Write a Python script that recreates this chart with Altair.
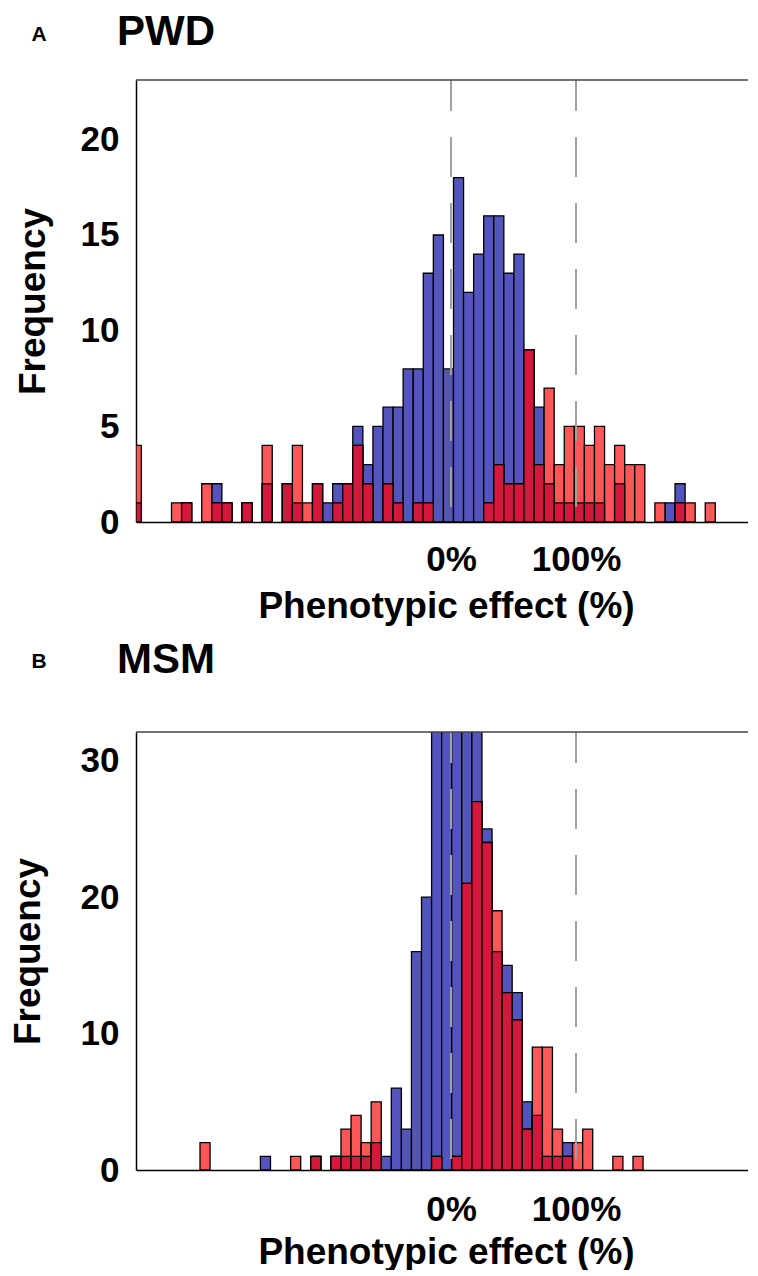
import altair as alt
import pandas as pd

# ---- data (counts per bin, bins left to right) ----
# Panel A: PWD
pwd_blue = [1, 0, 0, 0, 0, 1, 0, 0, 2, 1, 0, 1, 0, 2, 0, 2, 1, 0, 2, 1,
            2, 2, 5, 3, 5, 6, 6, 8, 8, 13, 15, 8, 18, 12, 14, 16, 16, 13, 14, 9,
            6, 2, 1, 1, 1, 1, 1, 0, 2, 0, 0, 0, 0, 1, 2, 0, 0, 0, 0, 0,
            0, 0, 0]
pwd_red = [4, 0, 0, 0, 1, 1, 0, 2, 1, 1, 0, 1, 0, 4, 0, 2, 4, 1, 2, 0,
           1, 2, 4, 2, 0, 2, 1, 0, 1, 1, 0, 0, 0, 0, 0, 1, 3, 2, 2, 9,
           3, 7, 3, 5, 5, 4, 5, 3, 4, 3, 3, 0, 1, 0, 1, 1, 0, 1, 0, 0,
           0, 0, 18]
# Panel B: MSM
msm_blue = [0, 0, 0, 0, 0, 0, 0, 0, 0, 0, 0, 0, 0, 1, 0, 0, 0, 0, 1, 0,
            1, 1, 1, 1, 2, 1, 6, 3, 16, 20, 36, 38, 40, 37, 34, 25, 16, 15, 13, 5,
            4, 1, 1, 2, 0, 0, 0, 0, 0, 0, 0]
msm_red = [0, 0, 0, 0, 0, 0, 0, 2, 0, 0, 0, 0, 0, 0, 0, 0, 1, 0, 1, 0,
           1, 3, 4, 2, 5, 0, 0, 0, 0, 0, 1, 0, 1, 21, 27, 24, 19, 13, 11, 3,
           9, 9, 3, 1, 2, 3, 0, 0, 1, 0, 1]

x_ticks = [0, 100]
pwd_yticks = [0, 5, 10, 15, 20]
msm_yticks = [0, 10, 20, 30]
ref_lines = [0, 100]

BIN_W = 8.056          # bin width in % units
PWD_ORIGIN = -255.8    # left edge of first bin (%)
MSM_ORIGIN = -257.2
XMIN, XMAX = -252.0, 244.0
W = 620

FONT = "Liberation Sans"
BLUE = "#5454BE"
LIGHTRED = "#FF5757"
CRIMSON = "#D4183C"


def panel(blue, red, origin, ymax, yticks, height, title, letter,
          title_y, letter_y, ytitle_pad, xlab_pad, xtitle_pad):
    df = pd.DataFrame({"bin": list(range(len(blue))), "blue": blue, "red": red})
    xaxis = alt.Axis(values=x_ticks, labelExpr="datum.value + '%'",
                     title="Phenotypic effect (%)", ticks=False, tickSize=0,
                     grid=False, labelPadding=xlab_pad, titlePadding=xtitle_pad,
                     domainColor="black", domainWidth=1.5)
    yaxis = alt.Axis(values=yticks, title="Frequency", ticks=False, tickSize=0,
                     grid=False, labelPadding=17, titlePadding=ytitle_pad,
                     domainColor="black", domainWidth=1.5)
    xs = alt.Scale(domain=[XMIN, XMAX], nice=False, zero=False)
    ys = alt.Scale(domain=[0, ymax], nice=False)

    base = alt.Chart(df).transform_calculate(
        lo=f"max({XMIN}, {origin} + {BIN_W} * datum.bin)",
        hi=f"min({XMAX}, {origin} + {BIN_W} * (datum.bin + 1))",
        both="min(datum.blue, datum.red)",
    )

    def bars(field, color):
        return base.transform_filter(f"datum.{field} > 0").mark_bar(
            color=color, stroke="black", strokeWidth=1.3, clip=True
        ).encode(
            x=alt.X("lo:Q", scale=xs, axis=xaxis),
            x2="hi:Q",
            y=alt.Y(f"{field}:Q", scale=ys, axis=yaxis),
            y2=alt.datum(0),
        )

    rules = alt.Chart(pd.DataFrame({"v": ref_lines})).mark_rule(
        color="#a0a0a0", strokeWidth=2, strokeDash=[40, 26], strokeDashOffset=9
    ).encode(x=alt.X("v:Q", scale=xs, axis=xaxis))

    top = alt.Chart(pd.DataFrame({"a": [0]})).mark_rule(
        color="#444444", strokeWidth=1.5
    ).encode(x=alt.value(0), x2=alt.value(W), y=alt.value(0))

    let = alt.Chart(pd.DataFrame({"t": [letter]})).mark_text(
        font=FONT, fontSize=21, fontWeight="bold", align="center",
        baseline="top", color="black"
    ).encode(text="t:N", x=alt.value(-97), y=alt.value(letter_y))

    ttl = alt.Chart(pd.DataFrame({"t": [title]})).mark_text(
        font=FONT, fontSize=42, fontWeight="bold", align="left",
        baseline="top", color="black"
    ).encode(text="t:N", x=alt.value(-19), y=alt.value(title_y))

    return alt.layer(
        bars("blue", BLUE), bars("red", LIGHTRED), bars("both", CRIMSON),
        rules, top, let, ttl
    ).properties(width=W, height=height)


a = panel(pwd_blue, pwd_red, PWD_ORIGIN, 23.1, pwd_yticks, 442, "PWD", "A",
          -68, -56, 28, 20, 11)
b = panel(msm_blue, msm_red, MSM_ORIGIN, 32.1, msm_yticks, 438, "MSM", "B",
          -92, -81, 33, 22, 7)

chart = alt.vconcat(a, b, spacing=15).properties(
    padding={"left": 1, "top": 3, "right": -9, "bottom": 0}
).configure_view(stroke=None).configure_axis(
    labelFont=FONT, titleFont=FONT, labelFontSize=35, titleFontSize=37,
    labelFontWeight="bold", titleFontWeight="bold", labelColor="black",
    titleColor="black"
)

chart.save("out.html", embed_options={"renderer": "svg", "actions": False})
